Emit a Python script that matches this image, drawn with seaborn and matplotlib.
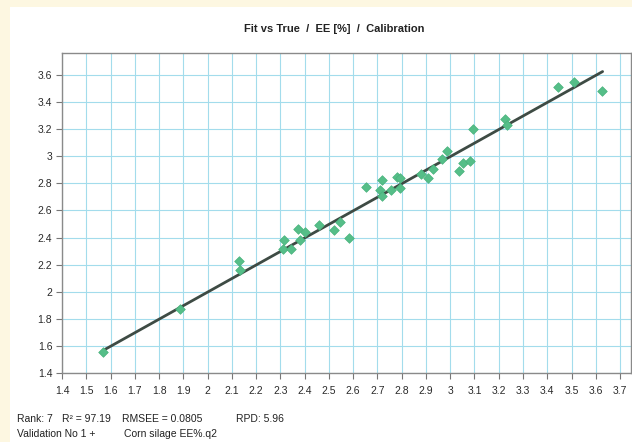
import matplotlib
matplotlib.use("Agg")
import matplotlib.pyplot as plt
import seaborn as sns
import pandas as pd
from matplotlib.ticker import FuncFormatter
from matplotlib.patches import Rectangle

# ---- data ----
true_vals = [1.571, 1.885, 2.131, 2.133, 2.312, 2.316, 2.344, 2.372, 2.380, 2.403,
             2.461, 2.523, 2.547, 2.582, 2.654, 2.720, 2.711, 2.720, 2.757, 2.782,
             2.792, 2.791, 2.878, 2.909, 2.928, 2.965, 2.985, 3.035, 3.052, 3.082,
             3.093, 3.225, 3.232, 3.446, 3.509, 3.624]
fit_vals = [1.553, 1.875, 2.228, 2.159, 2.317, 2.381, 2.314, 2.462, 2.381, 2.443,
            2.494, 2.452, 2.512, 2.400, 2.776, 2.825, 2.754, 2.708, 2.751, 2.850,
            2.841, 2.763, 2.868, 2.838, 2.904, 2.980, 3.035, 2.889, 2.948, 2.965,
            3.200, 3.274, 3.228, 3.510, 3.549, 3.479]
line_x = [1.571, 3.628]
line_y = [1.568, 3.625]

x_ticks = [1.4, 1.5, 1.6, 1.7, 1.8, 1.9, 2.0, 2.1, 2.2, 2.3, 2.4, 2.5, 2.6, 2.7,
           2.8, 2.9, 3.0, 3.1, 3.2, 3.3, 3.4, 3.5, 3.6, 3.7]
y_ticks = [1.4, 1.6, 1.8, 2.0, 2.2, 2.4, 2.6, 2.8, 3.0, 3.2, 3.4, 3.6]

title = "Fit vs True  /  EE [%]  /  Calibration"
footer1 = ["Rank: 7", "R² = 97.19", "RMSEE = 0.0805", "RPD: 5.96"]
footer2 = ["Validation No 1 +", "Corn silage EE%.q2"]

df = pd.DataFrame({"true": true_vals, "fit": fit_vals})
df_line = pd.DataFrame({"x": line_x, "y": line_y})

sns.set_theme(style="white")
plt.rcParams["font.family"] = ["Liberation Sans", "DejaVu Sans"]

W, H = 632, 442
fig = plt.figure(figsize=(W / 100, H / 100), dpi=100)
fig.patch.set_facecolor("#fdf7e1")
# white paper area of the scan (behind everything)
paper = Rectangle((10 / W, 0), 1, 1 - 7 / H, transform=fig.transFigure,
                  facecolor="white", edgecolor="none", zorder=-10)
fig.add_artist(paper)

ax = fig.add_axes([62 / W, 1 - 373 / H, (631 - 62) / W, (373 - 53) / H])
ax.set_zorder(1)
ax.set_facecolor("white")

grid_c = "#a3dcec"
ax.set_xticks(x_ticks)
ax.set_yticks(y_ticks)
ax.grid(True, color=grid_c, linewidth=0.8, zorder=0)
ax.set_axisbelow(True)

sns.lineplot(data=df_line, x="x", y="y", ax=ax, color="#3e4b44", linewidth=2.0,
             zorder=2)
sns.scatterplot(data=df, x="true", y="fit", ax=ax, marker="D", s=24,
                color="#55be88", edgecolor="#48b27c", linewidth=0.5, zorder=3)

ax.set_xlim(1.4, 3.745)
ax.set_ylim(1.4, 3.762)
ax.set_xlabel("")
ax.set_ylabel("")

fmt = FuncFormatter(lambda v, p: f"{v:g}")
ax.xaxis.set_major_formatter(fmt)
ax.yaxis.set_major_formatter(fmt)
ax.tick_params(axis="both", which="major", direction="out", length=4,
               width=0.8, color="#777777", labelsize=7.5, labelcolor="#2a2a2a",
               pad=3, bottom=True, left=True)
ax.tick_params(axis="x", pad=5)

for s in ax.spines.values():
    s.set_color("#8a8a8a")
    s.set_linewidth(1.0)

fig.text(334 / W, 1 - 29 / H, title, ha="center", va="center",
         fontsize=8, fontweight="bold", color="#222222")

fx1 = [17, 62, 122, 236]
for x, t in zip(fx1, footer1):
    fig.text(x / W, 1 - 419 / H, t, ha="left", va="center", fontsize=7.5,
             color="#222222")
fx2 = [17, 124]
for x, t in zip(fx2, footer2):
    fig.text(x / W, 1 - 434 / H, t, ha="left", va="center", fontsize=7.5,
             color="#222222")

fig.savefig("out.png", dpi=100, facecolor=fig.get_facecolor())
